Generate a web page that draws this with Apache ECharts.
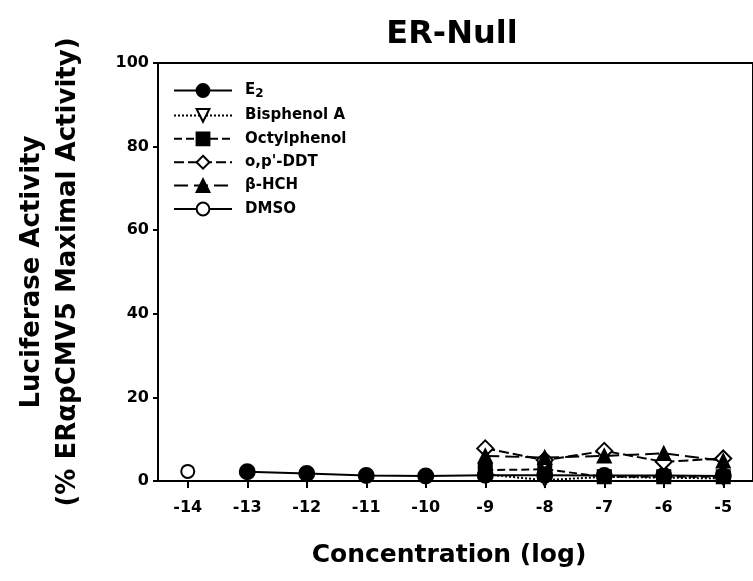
<!DOCTYPE html>
<html>
<head>
<meta charset="utf-8">
<script src="https://cdn.jsdelivr.net/npm/echarts@6/dist/echarts.min.js"></script>
<style>
  html, body { margin: 0; padding: 0; background: #fff; }
  #chart { width: 753px; height: 581px; }
</style>
</head>
<body>
<div id="chart"></div>
<script>
  // data
  const xTicks = [-14, -13, -12, -11, -10, -9, -8, -7, -6, -5];
  const yTicks = [0, 20, 40, 60, 80, 100];

  const e2X = [-13, -12, -11, -10, -9, -8, -7, -6, -5];
  const e2Y = [2.2, 1.8, 1.3, 1.2, 1.4, 1.4, 1.3, 1.3, 1.2];

  const bpaX = [-9, -8, -7, -6, -5];
  const bpaY = [1.6, 0.2, 1.0, 0.8, 0.6];

  const octX = [-9, -8, -7, -6, -5];
  const octY = [2.6, 2.8, 1.0, 1.0, 1.0];

  const ddtX = [-9, -8, -7, -6, -5];
  const ddtY = [7.8, 5.0, 7.2, 4.6, 5.4];

  const hchX = [-9, -8, -7, -6, -5];
  const hchY = [6.0, 5.6, 6.0, 6.6, 4.8];

  const dmsoX = [-14];
  const dmsoY = [2.3];

  const zip = (xs, ys) => xs.map((x, i) => [x, ys[i]]);

  const FONT = 'DejaVu Sans, Liberation Sans, sans-serif';

  const chartObj = echarts.init(document.getElementById('chart'));

  const mkSeries = (name, xs, ys, symbol, size, fill, lineType, extra) => Object.assign({
    name: name,
    type: 'line',
    data: zip(xs, ys),
    symbol: symbol,
    symbolSize: size,
    showAllSymbol: true,
    lineStyle: { color: '#000', width: 2, type: lineType },
    itemStyle: { color: fill, borderColor: '#000', borderWidth: 2 },
    emphasis: { disabled: true },
    animation: false
  }, extra || {});

  chartObj.setOption({
    backgroundColor: '#fff',
    animation: false,
    title: {
      text: 'ER-Null',
      left: 447,
      top: 14,
      textAlign: 'center',
      textStyle: { fontFamily: FONT, fontWeight: 'bold', fontSize: 32, color: '#000' }
    },
    legend: {
      left: 168,
      top: 78,
      orient: 'vertical',
      itemWidth: 58,
      itemHeight: 16,
      itemGap: 8.4,
      data: ['E2', 'Bisphenol A', 'Octylphenol', "o,p'-DDT", 'β-HCH', 'DMSO'],
      formatter: name => name === 'E2' ? 'E{sub|2}' : name,
      textStyle: {
        fontFamily: FONT, fontWeight: 'bold', fontSize: 15, color: '#000',
        padding: [0, 0, 0, 8],
        rich: {
          sub: { fontFamily: FONT, fontWeight: 'bold', fontSize: 12, color: '#000', verticalAlign: 'bottom', padding: [6, 0, 0, 0] }
        }
      }
    },
    grid: {
      left: 158,
      top: 63,
      bottom: 100,
      right: -13,
      show: true,
      borderColor: '#000',
      borderWidth: 2
    },
    xAxis: {
      type: 'value',
      min: -14.5,
      max: -4.5,
      name: 'Concentration (log)',
      nameLocation: 'middle',
      nameGap: 62,
      nameTextStyle: { fontFamily: FONT, fontWeight: 'bold', fontSize: 25, color: '#000', padding: [0, 0, 0, -13] },
      axisLine: { lineStyle: { color: '#000', width: 2 } },
      axisTick: { customValues: xTicks, length: 7, lineStyle: { color: '#000', width: 2 } },
      axisLabel: {
        customValues: xTicks,
        margin: 19,
        fontFamily: FONT, fontWeight: 'bold', fontSize: 16, color: '#000'
      },
      splitLine: { show: false }
    },
    yAxis: {
      type: 'value',
      min: 0,
      max: 100,
      interval: 20,
      name: 'Luciferase Activity\n(% ERαpCMV5 Maximal Activity)',
      nameLocation: 'middle',
      nameRotate: 90,
      nameGap: 72,
      nameTextStyle: { fontFamily: FONT, fontWeight: 'bold', fontSize: 26, color: '#000', lineHeight: 36 },
      axisLine: { lineStyle: { color: '#000', width: 2 } },
      axisTick: { length: 5, lineStyle: { color: '#000', width: 2 } },
      axisLabel: {
        customValues: yTicks,
        margin: 9,
        fontFamily: FONT, fontWeight: 'bold', fontSize: 16, color: '#000'
      },
      splitLine: { show: false }
    },
    series: [
      mkSeries('DMSO', dmsoX, dmsoY, 'circle', 13, '#fff', 'solid'),
      mkSeries('Bisphenol A', bpaX, bpaY, 'triangle', 12, '#fff', 'dotted', { symbolRotate: 180 }),
      mkSeries('Octylphenol', octX, octY, 'rect', 13, '#000', [8, 4]),
      mkSeries('E2', e2X, e2Y, 'circle', 15, '#000', 'solid'),
      mkSeries("o,p'-DDT", ddtX, ddtY, 'diamond', 16, '#fff', [10, 4]),
      mkSeries('β-HCH', hchX, hchY, 'triangle', 13, '#000', [14, 6])
    ]
  });
</script>
</body>
</html>
